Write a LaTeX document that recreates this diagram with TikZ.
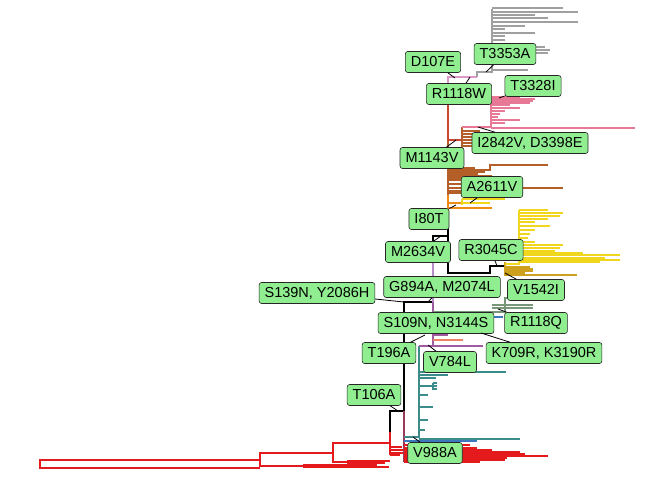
\documentclass[tikz,border=0pt]{standalone}
\usepackage{fontspec}
\setmainfont{Liberation Sans}
\definecolor{cRed}{RGB}{228,26,28}
\definecolor{cMaroon}{RGB}{150,60,90}
\definecolor{cRust}{RGB}{200,70,50}
\definecolor{cGrey}{RGB}{160,160,160}
\definecolor{cLilac}{RGB}{222,150,200}
\definecolor{cPink}{RGB}{231,120,150}
\definecolor{cBrown}{RGB}{180,95,40}
\definecolor{cOrange}{RGB}{240,140,20}
\definecolor{cYellow}{RGB}{240,215,30}
\definecolor{cGold}{RGB}{205,160,30}
\definecolor{cSage}{RGB}{120,150,120}
\definecolor{cPurple}{RGB}{160,90,160}
\definecolor{cLav}{RGB}{180,140,200}
\definecolor{cSalmon}{RGB}{240,130,100}
\definecolor{cTeal}{RGB}{60,140,140}
\definecolor{cBlue}{RGB}{60,120,190}
\definecolor{labelgreen}{RGB}{144,238,144}
\begin{document}
\begin{tikzpicture}[x=1pt,y=-1pt,line width=1.2pt,
  leaf/.style={line width=1.2pt},
  mut/.style={draw=black!85,fill=labelgreen,rounded corners=2.5pt,inner xsep=5.5pt,inner ysep=0pt,
    minimum height=21pt,line width=0.6pt,font=\fontsize{14.5}{16}\selectfont},
  lead/.style={draw=black,line width=0.8pt}]
\useasboundingbox (0,0) rectangle (672,480);
\draw[cRed] (260,460) -- (40,460) -- (40,468) -- (260,468);
\draw[cRed] (303,466) -- (260,466) -- (260,453) -- (333,453);
\draw[cRed] (347,462) -- (333,462) -- (333,443) -- (390,443) -- (390,432);
\draw[cRed] (390,443) -- (390,455);
\foreach \y/\e in {465/377,467/389} \draw[cRed,leaf] (303,\y) -- (\e,\y);
\foreach \y/\e in {461/390,463/385} \draw[cRed,leaf] (347,\y) -- (\e,\y);
\foreach \y/\e in {447/402,450/410,453/404,455/400} \draw[cRed,leaf] (390,\y) -- (\e,\y);
\draw (390,432) -- (390,411) -- (404,411) -- (404,302) -- (433,302);
\draw[cMaroon] (404,411) -- (404,462);
\foreach \y/\e in {445/470,448/477,450/492,452/520,454/525,456/548,458/507,460/505,462/480} \draw[cRed,leaf] (404,\y) -- (\e,\y);
\draw[cTeal] (404,437) -- (419,437) -- (419,346);
\draw[cTeal] (419,439) -- (520,439);
\draw[cBlue] (404,441) -- (477,441);
\foreach \y/\e in {372/506,375/448,378/436,395/428,407/433,420/428,430/425} \draw[cTeal,leaf] (419,\y) -- (\e,\y);
\draw[cTeal] (419,386) -- (433,386);
\draw[cTeal] (433,383) -- (433,390);
\foreach \y in {383,386,389} \draw[cTeal,leaf] (433,\y) -- (437,\y);
\draw[cPurple] (419,346) -- (483,346);
\draw (433,242) -- (433,236) -- (448,236);
\draw[cLav] (433,242) -- (433,302);
\draw[cPurple] (433,302) -- (433,346);
\draw[cSalmon] (433,330) -- (447,330);
\draw[cPurple] (433,335) -- (448,335);
\draw[cSalmon] (433,340) -- (463,340);
\draw[cSage] (433,312) -- (505,312) -- (505,298) -- (537,298);
\foreach \y/\e in {305/533,308/533} \draw[cSage,leaf] (492,\y) -- (\e,\y);
\draw[cBlue] (463,317) -- (503,317);
\draw (448,213) -- (448,273) -- (490,273) -- (490,266) -- (505,266);
\draw[cGold] (505,262) -- (505,276);
\foreach \y/\e in {267/530,269/533,271/533,273/525,275/577} \draw[cGold,leaf] (505,\y) -- (\e,\y);
\draw[cYellow] (505,264) -- (519,264) -- (519,210);
\foreach \y/\e in {210/548,213/563,216/560,219/548,222/535,226/550,230/535,234/530,238/528,242/535,245/563,248/560,251/555,253/583,255/620,258/605,260/620,262/600}
  \draw[cYellow,leaf] (519,\y) -- (\e,\y);
\draw[cOrange] (448,213) -- (448,195);
\draw[cBrown] (448,195) -- (448,140);
\draw[cRust] (448,140) -- (448,100);
\draw[cLilac] (448,100) -- (448,77) -- (477,77);
\draw[cOrange] (448,203) -- (462,203);
\draw[cYellow] (462,199) -- (462,205);
\draw[cYellow,leaf] (462,199) -- (505,199);
\draw[cYellow,leaf] (462,203) -- (490,203);
\draw[cOrange,leaf] (448,208) -- (492,208);
\draw[cBrown] (448,170) -- (490,170) -- (490,165) -- (548,165);
\foreach \y/\e in {168/475,172/485,174/478,176/492,178/470,180/475,184/465,188/563,191/470,193/462}
  \draw[cBrown,leaf] (448,\y) -- (\e,\y);
\draw[cRust] (448,140) -- (462,140);
\draw[cBrown] (462,127) -- (462,148);
\foreach \y/\e in {131/480,134/500,137/507,140/480,143/505,146/478} \draw[cBrown,leaf] (462,\y) -- (\e,\y);
\draw[cPink] (462,127) -- (491,127) -- (491,97);
\draw[cPink,leaf] (491,128) -- (635,128);
\foreach \y/\e in {97/520,99/535,101/533,103/530,105/510,108/520,111/505,114/500,117/498,120/520,123/505}
  \draw[cPink,leaf] (491,\y) -- (\e,\y);
\draw[cGrey] (477,77) -- (477,72) -- (492,72) -- (492,9);
\draw[cGrey,leaf] (492,70) -- (528,70);
\foreach \y/\e in {8/563,12/578,15/535,18/548,22/578,26/525,29/505,33/535,36/505,40/505,47/545,50/550,53/548,57/505,60/515,64/510}
  \draw[cGrey,leaf] (492,\y) -- (\e,\y);
\coordinate (pD107E) at (455,78);
\coordinate (pT3353A) at (486,72);
\coordinate (pR1118W) at (470,77);
\coordinate (pT3328I) at (499,98);
\coordinate (pI2842V) at (478,127);
\coordinate (pM1143V) at (456,140);
\coordinate (pA2611V) at (470,203);
\coordinate (pI80T) at (456,205);
\coordinate (pM2634V) at (441,236);
\coordinate (pR3045C) at (497,266);
\coordinate (pV1542I) at (505,273);
\coordinate (pG894A) at (428,302);
\coordinate (pS139N) at (404,302);
\coordinate (pR1118Q) at (498,309);
\coordinate (pK709R) at (481,333);
\coordinate (pT196A) at (425,335);
\coordinate (pV784L) at (428,345);
\coordinate (pT106A) at (398,411);
\coordinate (pV988A) at (413,437);
\node[mut] (lD107E) at (433,62) {D107E};
\node[mut] (lT3353A) at (505,54) {T3353A};
\node[mut] (lT3328I) at (533,86) {T3328I};
\node[mut] (lR1118W) at (459,94) {R1118W};
\node[mut] (lI2842V) at (530,143) {I2842V, D3398E};
\node[mut] (lM1143V) at (432,158) {M1143V};
\node[mut] (lA2611V) at (492,187) {A2611V};
\node[mut] (lI80T) at (429,219) {I80T};
\node[mut] (lM2634V) at (418,252) {M2634V};
\node[mut] (lR3045C) at (491,250) {R3045C};
\node[mut] (lG894A) at (442,287) {G894A, M2074L};
\node[mut] (lV1542I) at (536,290) {V1542I};
\node[mut] (lS139N) at (317,293) {S139N, Y2086H};
\node[mut] (lS109N) at (436,323) {S109N, N3144S};
\node[mut] (lR1118Q) at (536,323) {R1118Q};
\node[mut] (lT196A) at (389,353) {T196A};
\node[mut] (lV784L) at (450,362) {V784L};
\node[mut] (lK709R) at (544,353) {K709R, K3190R};
\node[mut] (lT106A) at (374,395) {T106A};
\node[mut] (lV988A) at (435,453) {V988A};
\foreach \m in {D107E,T3353A,R1118W,T3328I,I2842V,M1143V,A2611V,I80T,M2634V,R3045C,V1542I,G894A,S139N,R1118Q,K709R,T196A,V784L,T106A,V988A}
  \draw[lead] (l\m) -- (p\m);
\end{tikzpicture}
\end{document}
